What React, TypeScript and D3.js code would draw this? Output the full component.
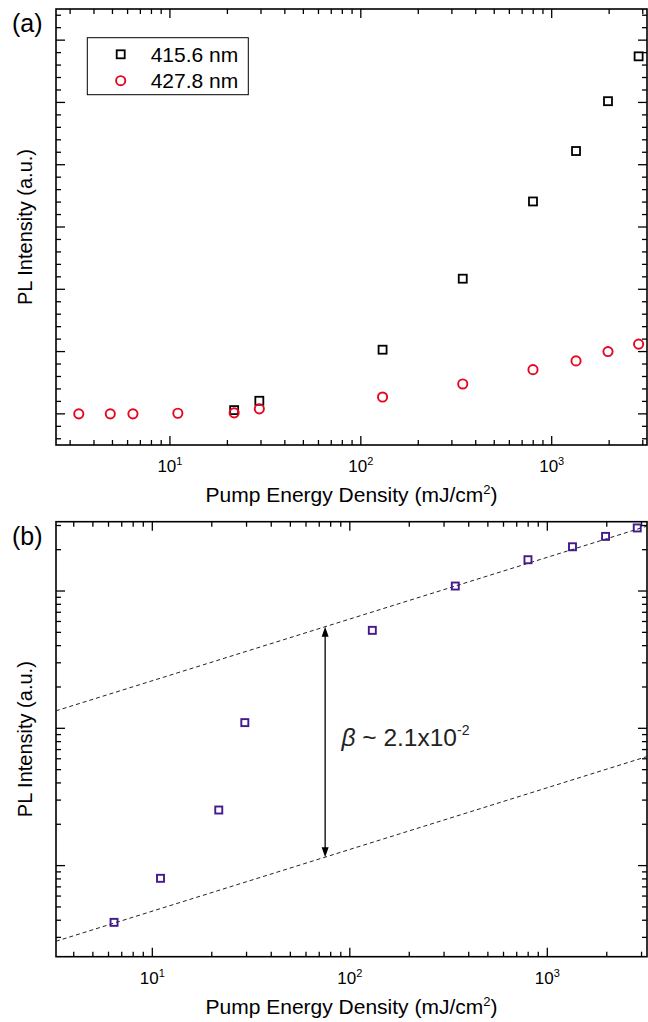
import React from 'react';
import * as d3 from 'd3';

// panel (a) data
const energyRed = [3.33, 4.87, 6.4, 11.0, 21.7, 29.4, 130, 342, 798, 1341, 1972, 2853];
const pl4278 = [0, 0, 0, 0.01, 0.016, 0.08, 0.27, 0.48, 0.71, 0.85, 1.0, 1.12];
const energyBlack = [21.7, 29.4, 130, 342, 798, 1341, 1972, 2853];
const pl4156 = [0.06, 0.21, 1.03, 2.17, 3.41, 4.22, 5.02, 5.74];

// panel (b) data
const energyB = [6.4, 11.0, 21.7, 29.4, 130, 342, 798, 1341, 1972, 2853];
const plB = [0.00386, 0.00808, 0.0254, 0.11, 0.517, 1.087, 1.69, 2.1, 2.5, 2.88];
const fitUpper = [[3.25, 0.134], [3200, 2.97]];
const fitLower = [[3.25, 0.00281], [3200, 0.0623]];
const arrowX = 75;
const arrowY = [0.55, 0.0115];

const xTickLabels = [10, 100, 1000];

const FONT = 'Liberation Sans, Arial, sans-serif';
const L = 56, R = 647;
const MAJ = 9, MIN = 5;

function logTicks(domain: number[]) {
  const out: { v: number; major: boolean }[] = [];
  const lo = Math.floor(Math.log10(domain[0]));
  const hi = Math.ceil(Math.log10(domain[1]));
  for (let d = lo; d <= hi; d++) {
    for (let k = 1; k <= 9; k++) {
      const v = k * Math.pow(10, d);
      if (v >= domain[0] && v <= domain[1]) out.push({ v, major: k === 1 });
    }
  }
  return out;
}

function Frame({ x, y, xt, yt, top, bottom }: any) {
  return (
    <g stroke="#000" strokeWidth={1.3}>
      {xt.map((t: any, i: number) => {
        const px = x(t.v);
        const len = t.major ? MAJ : MIN;
        return (
          <g key={'x' + i}>
            <line x1={px} x2={px} y1={bottom} y2={bottom - len} />
            <line x1={px} x2={px} y1={top} y2={top + len} />
          </g>
        );
      })}
      {yt.map((t: any, i: number) => {
        const py = y(t.v);
        const len = t.major ? MAJ : MIN;
        return (
          <g key={'y' + i}>
            <line x1={L} x2={L + len} y1={py} y2={py} />
            <line x1={R} x2={R - len} y1={py} y2={py} />
          </g>
        );
      })}
      <rect x={L} y={top} width={R - L} height={bottom - top} fill="none" strokeWidth={1.6} />
    </g>
  );
}

function AxisText({ x, top, bottom, tag, tagY }: any) {
  const cx = (L + R) / 2;
  const cy = (top + bottom) / 2;
  return (
    <g fontFamily={FONT} fill="#000">
      {xTickLabels.map((v, i) => (
        <text key={i} x={x(v)} y={bottom + 27} fontSize={17} textAnchor="middle">
          10<tspan fontSize={11} dy={-7}>{i + 1}</tspan>
        </text>
      ))}
      <text x={cx} y={bottom + 57} fontSize={21} textAnchor="middle">
        Pump Energy Density (mJ/cm<tspan fontSize={13} dy={-8}>2</tspan><tspan dy={8}>)</tspan>
      </text>
      <text transform={`translate(32,${cy}) rotate(-90)`} fontSize={20} textAnchor="middle">
        PL Intensity (a.u.)
      </text>
      <text x={12} y={tagY} fontSize={25}>{tag}</text>
    </g>
  );
}

function PanelA() {
  const top = 9, bottom = 445;
  const x = d3.scaleLog().domain([2.53, 3157]).range([L, R]);
  const y = d3.scaleLinear().domain([-0.5, 6.5]).range([bottom, top]);
  const yt = d3.range(-2, 33).map((i) => ({ v: i / 5, major: i % 5 === 0 }));
  const sq = 8;
  return (
    <g>
      <Frame x={x} y={y} xt={logTicks(x.domain())} yt={yt} top={top} bottom={bottom} />
      {energyBlack.map((e, i) => (
        <rect key={i} x={x(e) - sq / 2} y={y(pl4156[i]) - sq / 2} width={sq} height={sq}
          fill="none" stroke="#000" strokeWidth={1.8} />
      ))}
      {energyRed.map((e, i) => (
        <circle key={i} cx={x(e)} cy={y(pl4278[i])} r={4.6} fill="none" stroke="#e5061f" strokeWidth={1.9} />
      ))}
      <rect x={87.3} y={37.7} width={161} height={57} fill="none" stroke="#000" strokeWidth={1} />
      <rect x={120.7 - 4} y={54.3 - 4} width={8} height={8} fill="none" stroke="#000" strokeWidth={1.8} />
      <circle cx={120.7} cy={80.7} r={4.6} fill="none" stroke="#e5061f" strokeWidth={1.9} />
      <g fontFamily={FONT} fontSize={21} fill="#000">
        <text x={150.7} y={61.7}>415.6 nm</text>
        <text x={150.7} y={87.6}>427.8 nm</text>
      </g>
      <AxisText x={x} top={top} bottom={bottom} tag="(a)" tagY={32} />
    </g>
  );
}

function PanelB() {
  const top = 521.7, bottom = 956.7;
  const x = d3.scaleLog().domain([3.253, 3197]).range([L, R]);
  const y = d3.scaleLog().domain([0.00217, 3.198]).range([bottom, top]);
  const sq = 7;
  const line = d3.line<number[]>().x((d) => x(d[0])).y((d) => y(d[1]));
  const ax = x(arrowX);
  const y1 = y(arrowY[0]);
  const y2 = y(arrowY[1]);
  return (
    <g>
      <defs>
        <clipPath id="clipB">
          <rect x={L} y={top} width={R - L} height={bottom - top} />
        </clipPath>
      </defs>
      <Frame x={x} y={y} xt={logTicks(x.domain())} yt={logTicks(y.domain())} top={top} bottom={bottom} />
      <g clipPath="url(#clipB)" fill="none" stroke="#222" strokeWidth={1} strokeDasharray="4,3">
        <path d={line(fitUpper as any) || ''} />
        <path d={line(fitLower as any) || ''} />
      </g>
      <line x1={ax} x2={ax} y1={y1 + 9} y2={y2 - 9} stroke="#000" strokeWidth={1.3} />
      <path d={`M${ax},${y1} l-3.5,10 l7,0 Z`} fill="#000" />
      <path d={`M${ax},${y2} l-3.5,-10 l7,0 Z`} fill="#000" />
      {energyB.map((e, i) => (
        <rect key={i} x={x(e) - sq / 2} y={y(plB[i]) - sq / 2} width={sq} height={sq}
          fill="none" stroke="#42198f" strokeWidth={1.9} />
      ))}
      <text x={341.5} y={745.7} fontFamily={FONT} fontSize={24.5} fill="#222">
        <tspan fontStyle="italic">β</tspan> ~ 2.1x10<tspan fontSize={14} dy={-11}>-2</tspan>
      </text>
      <AxisText x={x} top={top} bottom={bottom} tag="(b)" tagY={545} />
    </g>
  );
}

export default function App() {
  return (
    <div style={{ position: 'absolute', left: 0, top: 0 }}>
      <svg width={648} height={1022} style={{ display: 'block', background: '#fff' }}>
        <PanelA />
        <PanelB />
      </svg>
    </div>
  );
}
